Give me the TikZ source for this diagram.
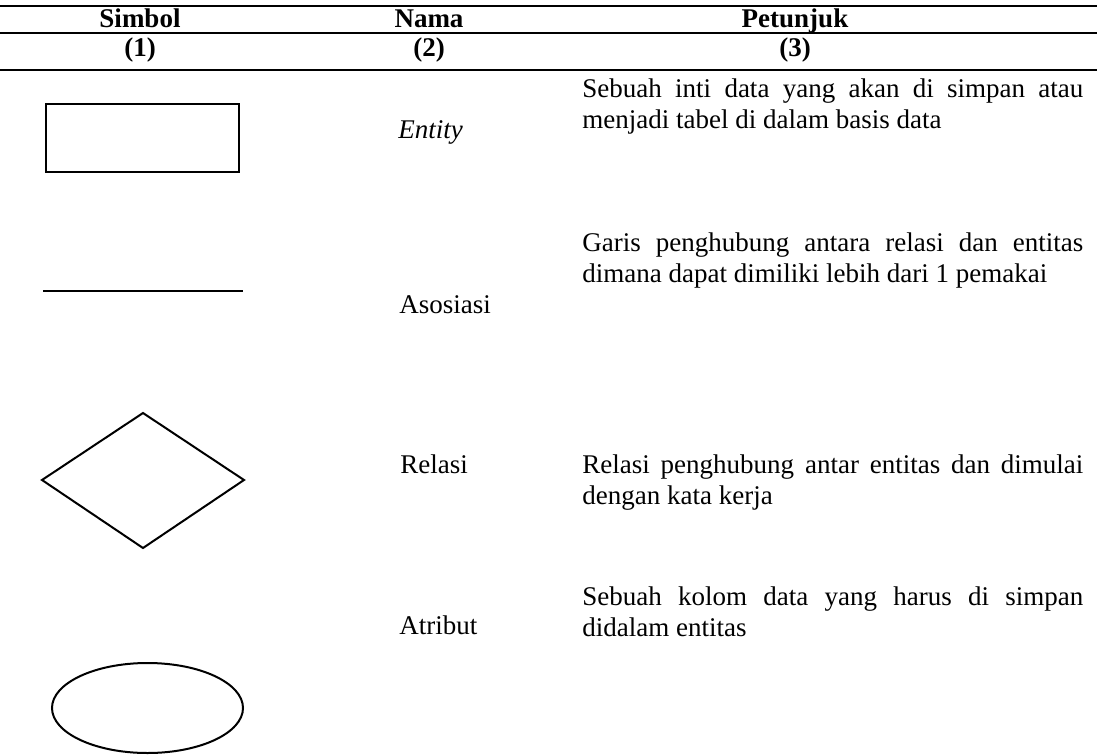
\documentclass[tikz,border=0pt]{standalone}
\usepackage{fontspec}
\setmainfont{Liberation Serif}
\usetikzlibrary{positioning}

\begin{document}
\begin{tikzpicture}[x=0.5pt, y=-0.5pt,
    every node/.style={inner sep=0pt, font=\fontsize{13.5}{15.5}\selectfont},
    head/.style={anchor=base, font=\fontsize{13.5}{15.5}\selectfont\bfseries},
    nama/.style={anchor=base west},
    petunjuk/.style={anchor=base west, text width=250.5pt, align=justify},
    rule/.style={line width=1.25pt},
    simbol/.style={line width=1pt}]
    \useasboundingbox (0,0) rectangle (1097,755);

    % Table rules
    \draw[rule] (0,6) -- (1097,6);
    \draw[line width=1pt] (0,33) -- (1097,33);
    \draw[rule] (0,70) -- (1097,70);

    % Header
    \node[head] (hSimbol) at (140,27) {Simbol};
    \node[head] (hNama) at (429,27) {Nama};
    \node[head] (hPetunjuk) at (795,27) {Petunjuk};
    \foreach \x/\n in {140/1, 429/2, 795/3} {
        \node[head] (no\n) at (\x,56) {(\n)};
    }

    % Entity
    \draw[line width=1.25pt] (46,104) rectangle (239,172);
    \node[nama] (entity) at (398,138) {\textit{Entity}};
    \node[petunjuk] (pEntity) at (582,97) {Sebuah inti data yang akan di simpan atau\linebreak menjadi tabel di dalam basis data};

    % Asosiasi
    \draw[line width=0.75pt] (43,291) -- (243,291);
    \node[nama] (asosiasi) at (399,313) {Asosiasi};
    \node[petunjuk] (pAsosiasi) at (582,251) {Garis penghubung antara relasi dan entitas\linebreak dimana dapat dimiliki lebih dari 1 pemakai};

    % Relasi
    \draw[simbol] (42,480) -- (143,413) -- (244,480) -- (143,548) -- cycle;
    \node[nama] (relasi) at (400,473) {Relasi};
    \node[petunjuk] (pRelasi) at (582,473) {Relasi penghubung antar entitas dan dimulai\linebreak dengan kata kerja};

    % Atribut
    \draw[simbol] (147.5,708) ellipse (95.5 and 45);
    \node[nama] (atribut) at (399,634) {Atribut};
    \node[petunjuk] (pAtribut) at (582,605) {Sebuah kolom data yang harus di simpan\linebreak didalam entitas};
\end{tikzpicture}
\end{document}
